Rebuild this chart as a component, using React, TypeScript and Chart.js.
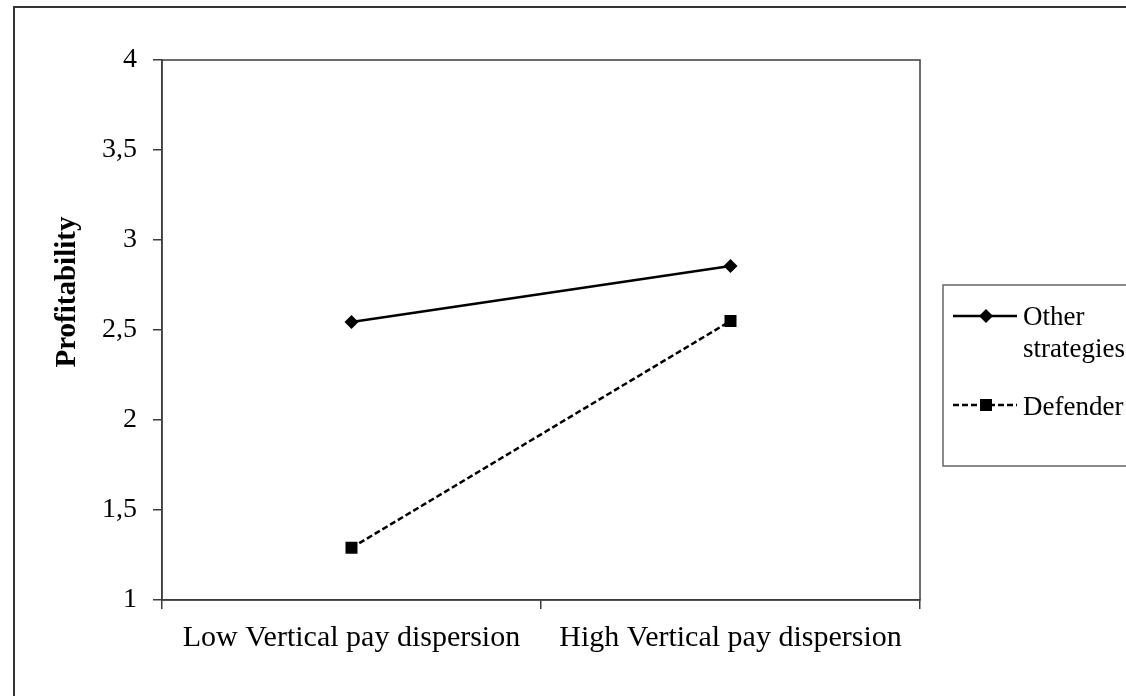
import React, { useEffect, useRef } from "react";
import { Chart, registerables } from "chart.js";

Chart.register(...registerables);

const categories = ["Low Vertical pay dispersion", "High Vertical pay dispersion"];
const otherStrategies = [2.545, 2.855];
const defender = [1.29, 2.55];
const seriesLabels = [["Other", "strategies"], ["Defender"]];
const yTicks = [1, 1.5, 2, 2.5, 3, 3.5, 4];
const yTitle = "Profitability";

const SERIF = '"Liberation Serif", "Times New Roman", serif';
const AXIS_COLOR = "#3c3c3c";

const framePlugin = {
  id: "frame",
  beforeDraw(chart: any) {
    const ctx = chart.ctx;
    ctx.save();
    ctx.fillStyle = "#fff";
    ctx.fillRect(0, 0, chart.width, chart.height);
    ctx.strokeStyle = "#333";
    ctx.lineWidth = 2;
    ctx.beginPath();
    ctx.moveTo(14, chart.height);
    ctx.lineTo(14, 7);
    ctx.lineTo(chart.width, 7);
    ctx.stroke();
    ctx.restore();
  },
  afterDraw(chart: any) {
    const ctx = chart.ctx;
    const a = chart.chartArea;
    ctx.save();
    ctx.strokeStyle = AXIS_COLOR;
    ctx.lineWidth = 1.5;
    ctx.strokeRect(a.left, a.top, a.right - a.left, a.bottom - a.top);
    // y-axis title
    ctx.fillStyle = "#000";
    ctx.font = `bold 29px ${SERIF}`;
    ctx.textAlign = "center";
    ctx.textBaseline = "middle";
    ctx.translate(68, 292);
    ctx.rotate(-Math.PI / 2);
    ctx.fillText(yTitle, 0, 0);
    ctx.restore();

    // legend
    ctx.save();
    const lx = 943, ly = 285, lw = 200, lh = 181;
    ctx.strokeStyle = "#666";
    ctx.lineWidth = 1.5;
    ctx.strokeRect(lx, ly, lw, lh);
    const rows = [
      { y: 316, textY: [325, 357] },
      { y: 405, textY: [415] },
    ];
    chart.data.datasets.forEach((ds: any, i: number) => {
      const r = rows[i];
      ctx.save();
      ctx.strokeStyle = ds.borderColor;
      ctx.lineWidth = ds.borderWidth;
      ctx.setLineDash(ds.borderDash || []);
      ctx.beginPath();
      ctx.moveTo(953, r.y);
      ctx.lineTo(1017, r.y);
      ctx.stroke();
      ctx.setLineDash([]);
      ctx.fillStyle = ds.pointBackgroundColor;
      ctx.beginPath();
      if (ds.pointStyle === "rectRot") {
        const s = ds.pointRadius;
        ctx.moveTo(986, r.y - s);
        ctx.lineTo(986 + s, r.y);
        ctx.lineTo(986, r.y + s);
        ctx.lineTo(986 - s, r.y);
        ctx.closePath();
      } else {
        const s = ds.pointRadius * Math.SQRT1_2;
        ctx.rect(986 - s, r.y - s, 2 * s, 2 * s);
      }
      ctx.fill();
      ctx.restore();
      ctx.fillStyle = "#000";
      ctx.font = `27px ${SERIF}`;
      ctx.textAlign = "left";
      ctx.textBaseline = "alphabetic";
      seriesLabels[i].forEach((t, j) => ctx.fillText(t, 1023, r.textY[j]));
    });
    ctx.restore();
  },
};

export default function App() {
  const ref = useRef<HTMLCanvasElement | null>(null);
  useEffect(() => {
    if (!ref.current) return;
    const chart = new Chart(ref.current, {
      type: "line",
      data: {
        labels: categories,
        datasets: [
          {
            label: seriesLabels[0].join(" "),
            data: otherStrategies,
            borderColor: "#000",
            backgroundColor: "#000",
            pointBackgroundColor: "#000",
            pointBorderColor: "#000",
            borderWidth: 2.5,
            pointStyle: "rectRot",
            pointRadius: 7,
            pointBorderWidth: 0,
            tension: 0,
          },
          {
            label: seriesLabels[1].join(" "),
            data: defender,
            borderColor: "#000",
            backgroundColor: "#000",
            pointBackgroundColor: "#000",
            pointBorderColor: "#000",
            borderWidth: 2.5,
            borderDash: [6, 3],
            pointStyle: "rect",
            pointRadius: 8.5,
            pointBorderWidth: 0,
            tension: 0,
          },
        ],
      } as any,
      options: {
        animation: false,
        responsive: false,
        layout: { padding: { left: 0, top: 60, right: 206, bottom: 0 } },
        plugins: {
          legend: { display: false },
          tooltip: { enabled: false },
        },
        scales: {
          x: {
            offset: true,
            afterFit: (s: any) => { s.height = 96; },
            grid: {
              offset: true,
              drawOnChartArea: false,
              drawTicks: true,
              tickLength: 9,
              color: AXIS_COLOR,
              lineWidth: 1.5,
            },
            border: { color: AXIS_COLOR, width: 1.5 },
            ticks: {
              color: "#000",
              font: { family: SERIF, size: 30 },
              padding: 11,
              maxRotation: 0,
            },
          },
          y: {
            min: 1,
            max: 4,
            afterFit: (s: any) => { s.width = 162; },
            afterBuildTicks: (s: any) => { s.ticks = yTicks.map((v) => ({ value: v })); },
            grid: {
              drawOnChartArea: false,
              drawTicks: true,
              tickLength: 9,
              color: AXIS_COLOR,
              lineWidth: 1.5,
            },
            border: { color: AXIS_COLOR, width: 1.5 },
            ticks: {
              color: "#000",
              font: { family: SERIF, size: 28 },
              padding: 16,
              callback: (v: any) => String(v).replace(".", ","),
            },
          },
        },
      } as any,
      plugins: [framePlugin],
    });
    return () => chart.destroy();
  }, []);
  return (
    <div style={{ position: "fixed", left: 0, top: 0, width: 1126, height: 696, background: "#fff" }}>
      <canvas ref={ref} width={1126} height={696} style={{ display: "block" }} />
    </div>
  );
}
